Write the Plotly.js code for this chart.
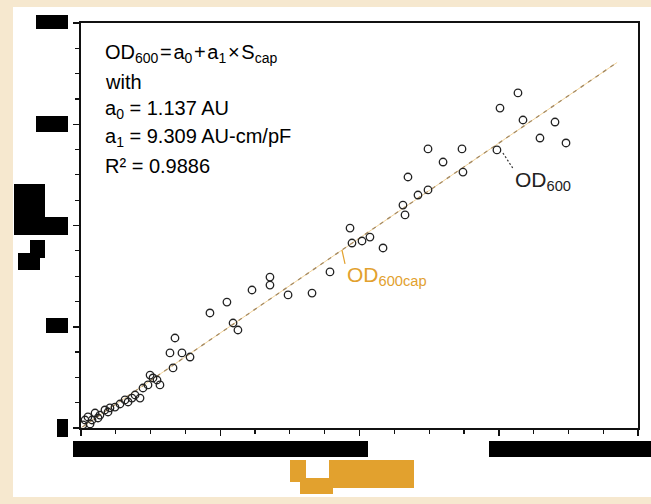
<!DOCTYPE html>
<html>
<head>
<meta charset="utf-8">
<script src="https://cdn.plot.ly/plotly-3.0.1.min.js"></script>
<style>
html,body{margin:0;padding:0;background:#f6e8cf;}
#chart{width:651px;height:504px;}
</style>
</head>
<body>
<div id="chart"></div>
<script>
// Measured points: capacitance signal (x) vs OD600 (y)
const sCap = [0.014,0.029,0.050,0.065,0.079,0.101,0.122,0.136,0.172,0.194,0.208,0.244,0.280,0.316,0.338,0.366,0.388,0.424,0.445,0.481,0.496,0.517,0.546,0.567,0.639,0.661,0.675,0.725,0.783,0.926,1.048,1.092,1.127,1.228,1.357,1.357,1.487,1.659,1.788,1.932,1.946,2.018,2.075,2.169,2.312,2.327,2.348,2.420,2.492,2.492,2.600,2.736,2.743,2.987,3.009,3.138,3.174,3.296,3.404,3.483];
const od600 = [0.030,0.079,0.109,0.040,0.079,0.148,0.099,0.128,0.178,0.158,0.198,0.207,0.237,0.277,0.257,0.296,0.326,0.296,0.395,0.425,0.523,0.494,0.474,0.425,0.741,0.593,0.889,0.741,0.701,1.136,1.244,1.037,0.968,1.363,1.491,1.412,1.314,1.333,1.541,1.975,1.827,1.847,1.886,1.778,2.202,2.104,2.479,2.301,2.351,2.756,2.627,2.756,2.528,2.746,3.160,3.309,3.042,2.864,3.022,2.815];
// Linear fit OD600cap
const fitX = [0.01, 3.85];
const fitY = [0.01, 3.61];
// label leader lines
const leadBlackX = [3.03, 3.10];
const leadBlackY = [2.716, 2.568];
const leadOrangeX = [1.874, 1.896];
const leadOrangeY = [1.758, 1.620];

const HS = '\u200A';
const eqLines = [
  "OD<sub>600</sub>"+HS+"="+HS+"a<sub>0</sub>"+HS+"+"+HS+"a<sub>1</sub>"+HS+"×"+HS+"S<sub>cap</sub>",
  "with",
  "a<sub>0</sub> = 1.137 AU",
  "a<sub>1</sub> = 9.309 AU-cm/pF",
  "R² = 0.9886"
];

const ORANGE = '#e2a12e';
const FONT = '"Liberation Sans", Arial, sans-serif';

// plot frame in pixels
const L = 81, R = 638, T = 23, B = 428;
function px(x0,y0,x1,y1,color,layer){
  return {type:'rect', xref:'paper', yref:'paper', layer: layer||'above',
    x0:(x0-L)/(R-L), x1:(x1-L)/(R-L), y0:(B-y0)/(B-T), y1:(B-y1)/(B-T),
    fillcolor:color, line:{width:0}};
}
function pyp(y){ return (B-y)/(B-T); }
function pxp(x){ return (x-L)/(R-L); }

const shapes = [
  px(13,7,651,497,'#ffffff','below'),
  // redacted y tick labels / title
  px(36,15,68,29,'#000'), px(36,116,68,132,'#000'),
  px(14,184,45,235,'#000'), px(45,217,68,235,'#000'),
  px(30,240,45,258,'#000'), px(18,253,40,270,'#000'),
  px(46,318,68,333,'#000'), px(57,419,68,437,'#000'),
  // redacted x tick labels
  px(73,441,368,457,'#000'), px(489,441,651,457,'#000'),
  // redacted x title (orange)
  px(290,460,306,482,ORANGE), px(300,478,333,494,ORANGE), px(329,460,414,488,ORANGE)
];

const traces = [
  {x: fitX, y: fitY, mode:'lines', line:{color:'#f2d49c', width:1}, hoverinfo:'skip', showlegend:false},
  {x: fitX, y: fitY, mode:'lines', line:{color:'#a58a62', width:1.3, dash:'4px,5px'}, hoverinfo:'skip', showlegend:false},
  {x: sCap, y: od600, mode:'markers', marker:{symbol:'circle-open', size:7.5, color:'#222', line:{width:1.3}}, showlegend:false},
  {x: leadBlackX, y: leadBlackY, mode:'lines', line:{color:'#333', width:1.2, dash:'2px,2px'}, showlegend:false},
  {x: leadOrangeX, y: leadOrangeY, mode:'lines', line:{color:ORANGE, width:1.2}, showlegend:false}
];

const eqY = [53, 82, 109, 137, 166];
const annotations = eqLines.map((t,i)=>({
  text: t, xref:'paper', yref:'paper', x: pxp(103), y: pyp(eqY[i]),
  xanchor:'left', yanchor:'middle', showarrow:false,
  font:{family:FONT, size:20, color:'#000'}
}));
annotations.push({text:'OD<sub>600</sub>', x:3.10, y:2.44, xanchor:'left', yanchor:'middle', showarrow:false,
  font:{family:FONT, size:21, color:'#222'}});
annotations.push({text:'OD<sub>600cap</sub>', x:1.896, y:1.50, xanchor:'left', yanchor:'middle', showarrow:false,
  font:{family:FONT, size:21, color:ORANGE}});

const axisCommon = {
  showgrid:false, zeroline:false, showline:true, mirror:true,
  linecolor:'#111', linewidth:2, ticks:'outside', ticklen:6, tickwidth:1.5, tickcolor:'#111',
  showticklabels:false, dtick:1, tick0:0,
  minor:{dtick:0.25, ticks:'outside', ticklen:4, tickwidth:1.2, tickcolor:'#111', showgrid:false}
};

const layout = {
  width:651, height:504,
  margin:{l:L, r:651-R, t:T, b:504-B, pad:0},
  paper_bgcolor:'#f6e8cf', plot_bgcolor:'#ffffff',
  xaxis: Object.assign({}, axisCommon, {range:[0,4]}),
  yaxis: Object.assign({}, axisCommon, {range:[0,4]}),
  shapes: shapes,
  annotations: annotations,
  showlegend:false
};

Plotly.newPlot('chart', traces, layout, {displayModeBar:false, staticPlot:true});
</script>
</body>
</html>
